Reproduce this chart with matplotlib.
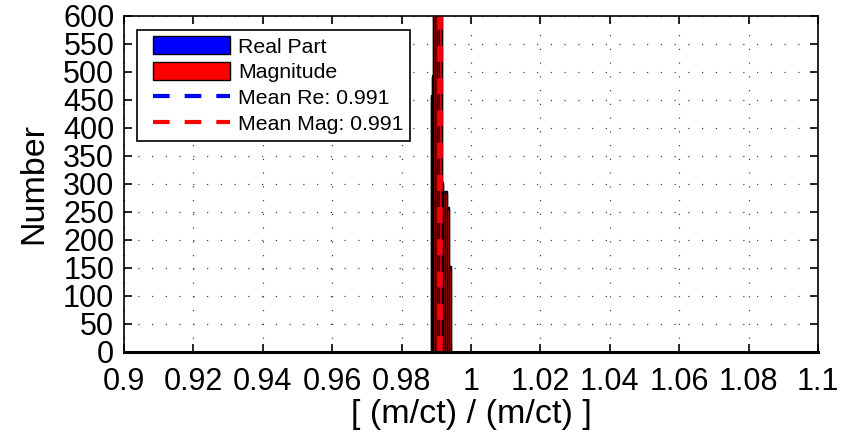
import matplotlib
matplotlib.use("Agg")
import matplotlib.pyplot as plt
import numpy as np
from matplotlib.patches import Patch
from matplotlib.lines import Line2D
from matplotlib.legend_handler import HandlerPatch, HandlerLine2D

plt.rcParams['font.family'] = ['Liberation Sans', 'DejaVu Sans']

# histogram bins (edges) and counts
bin_edges = [0.9884, 0.9888, 0.9891, 0.9897, 0.9903, 0.9909, 0.9916, 0.9919, 0.9925, 0.9931, 0.9937, 0.9942]
re_counts = [458, 494, 700, 800, 760, 640, 303, 287, 287, 258, 153]
mag_counts = [455, 490, 690, 790, 750, 630, 300, 285, 284, 256, 150]
mean_re = 0.991
mean_mag = 0.991

xticks = [0.9, 0.92, 0.94, 0.96, 0.98, 1.0, 1.02, 1.04, 1.06, 1.08, 1.1]
xtick_labels = ["0.9", "0.92", "0.94", "0.96", "0.98", "1", "1.02", "1.04", "1.06", "1.08", "1.1"]
yticks = list(range(0, 601, 50))

fig = plt.figure(figsize=(8.55, 4.34), dpi=100)
ax = fig.add_axes([0.145, 0.189, 0.8117, 0.7742])

edges = np.array(bin_edges)
widths = np.diff(edges)
ax.bar(edges[:-1], re_counts, width=widths, align='edge', color='blue', edgecolor='black', linewidth=1)
ax.bar(edges[:-1], mag_counts, width=widths, align='edge', color='red', edgecolor='black', linewidth=1)

ax.axvline(mean_re, color='blue', linestyle=(0, (2.9, 2.9)), linewidth=4)
ax.axvline(mean_mag, color='red', linestyle=(0, (2.9, 2.9)), linewidth=4)

ax.set_xlim(0.9, 1.1)
ax.set_ylim(0, 600)
ax.set_xticks(xticks)
ax.set_xticklabels(xtick_labels)
ax.set_yticks(yticks)
ax.tick_params(direction='in', top=True, right=True, labelsize=22, length=6, width=1.2)
ax.tick_params(axis='x', pad=11)
ax.tick_params(axis='y', pad=7)
ax.grid(True, linestyle=(0, (1, 10)), color='#444444', linewidth=0.9)
ax.set_axisbelow(True)
for s in ax.spines.values():
    s.set_linewidth(1.2)
ax.spines['bottom'].set_linewidth(2.2)

ax.set_xlabel("[ (m/ct) / (m/ct) ]", fontsize=24.5, labelpad=1)
ax.set_ylabel("Number", fontsize=24.5, labelpad=10)

handles = [
    Patch(facecolor='blue', edgecolor='black', label='Real Part'),
    Patch(facecolor='red', edgecolor='black', label='Magnitude'),
    Line2D([0], [0], color='blue', linestyle=(0, (4, 3.6)), linewidth=3, label='Mean Re: %.3f' % mean_re),
    Line2D([0], [0], color='red', linestyle=(0, (4, 3.6)), linewidth=3, label='Mean Mag: %.3f' % mean_mag),
]
hmap = {Patch: HandlerPatch(xpad=0.45), Line2D: HandlerLine2D(xpad=0.45)}
leg = ax.legend(handles=handles, handler_map=hmap, loc='upper left', bbox_to_anchor=(0.0187, 0.958),
                fontsize=15.3, fancybox=False, framealpha=1, edgecolor='black', handlelength=4.07,
                handleheight=0.9, labelspacing=0.27, borderpad=0.3, handletextpad=0.38,
                borderaxespad=0)
leg.get_frame().set_linewidth(1.2)

fig.savefig("out.png", dpi=100)
